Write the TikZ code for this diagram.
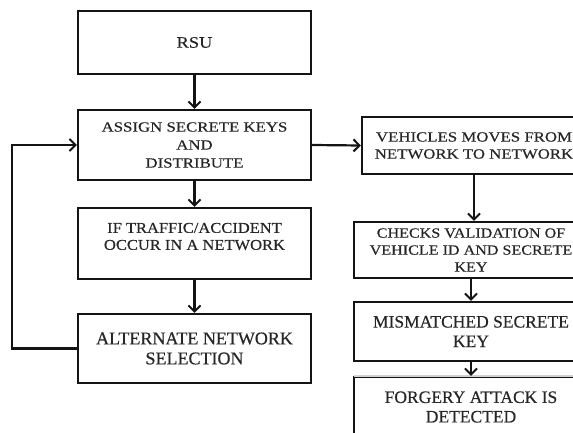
\documentclass[tikz,border=0pt]{standalone}
\usepackage{fontspec}
\setmainfont{Liberation Serif}[FakeBold=0.4]
\newfontfamily\ffStA[FakeStretch=1.15,FakeBold=0.4]{Liberation Serif}
\newfontfamily\ffStB[FakeStretch=1.2,FakeBold=0.4]{Liberation Serif}
\newfontfamily\ffStC[FakeStretch=1.1,FakeBold=0.4]{Liberation Serif}
\usetikzlibrary{arrows.meta}
\definecolor{ink}{HTML}{141414}
\definecolor{txt}{HTML}{262626}
\tikzset{
  box/.style={draw=ink, line width=2.2pt, rectangle, inner sep=0pt, align=center, text=txt},
  plain/.style={inner sep=0pt, align=center, text=txt},
  arr/.style={draw=ink, line width=2.2pt, -{Straight Barb[length=6pt,width=12pt,line width=2pt]}},
  fRSU/.style={font=\ffStA\fontsize{16}{18}\selectfont},
  fASG/.style={font=\ffStB\fontsize{14}{18}\selectfont},
  fIF/.style={font=\ffStC\fontsize{15}{17}\selectfont},
  fALT/.style={font=\fontsize{18}{20}\selectfont},
  fVEH/.style={font=\ffStB\fontsize{14}{17}\selectfont},
  fCHK/.style={font=\ffStA\fontsize{14}{17}\selectfont},
  fBIG/.style={font=\fontsize{17.5}{19.5}\selectfont},
}
\begin{document}
\begin{tikzpicture}[x=1pt,y=-1pt]
\useasboundingbox (0,0) rectangle (573,433);
\clip (0,0) rectangle (573,433);
% left column
\node[box, fRSU, minimum width=233pt, minimum height=63pt] (rsu) at (194.5,42.5) {RSU};
\node[box, fASG, minimum width=233pt, minimum height=70pt] (asg) at (194.5,145) {ASSIGN SECRETE KEYS\\AND\\DISTRIBUTE};
\node[box, minimum width=233pt, minimum height=71pt] (ifb) at (194.5,243.5) {};
\node[plain, fIF] (ift) at (194.5,236.5) {IF TRAFFIC/ACCIDENT\\OCCUR IN A NETWORK};
\node[box, fALT, minimum width=233pt, minimum height=69pt] (alt) at (194.5,348.5) {ALTERNATE NETWORK\\SELECTION};
% right column
\node[box, fVEH, minimum width=224pt, minimum height=57pt] (veh) at (474,145.5) {VEHICLES MOVES FROM\\NETWORK TO NETWORK};
\node[box, fCHK, minimum width=234pt, minimum height=56pt] (chk) at (471,250) {CHECKS VALIDATION OF\\VEHICLE ID AND SECRETE\\KEY};
\node[box, fBIG, minimum width=234pt, minimum height=59pt] (mis) at (471,331.5) {MISMATCHED SECRETE\\KEY};
\node[box, fBIG, minimum width=234pt, minimum height=60pt] (frg) at (471,407) {FORGERY ATTACK IS\\DETECTED};
\draw[draw=gray!35, line width=2.3pt] (frg.north west) ++(1.1pt,0) -- (frg.north east);
% connectors
\coordinate (fbx) at (12,0);
\draw[arr] (rsu.south) -- (asg.north);
\draw[arr] (asg.south) -- (ifb.north);
\draw[arr] (ifb.south) -- (alt.north);
\draw[arr] (alt.west) -- (alt.west -| fbx) |- (asg.west);
\draw[arr] (asg.east) -- (veh.west);
\draw[arr] (veh.south) -- (veh.south |- chk.north);
\draw[arr] (chk.south -| mis.north) -- (mis.north);
\draw[arr] (mis.south) -- (frg.north);
\end{tikzpicture}
\end{document}
